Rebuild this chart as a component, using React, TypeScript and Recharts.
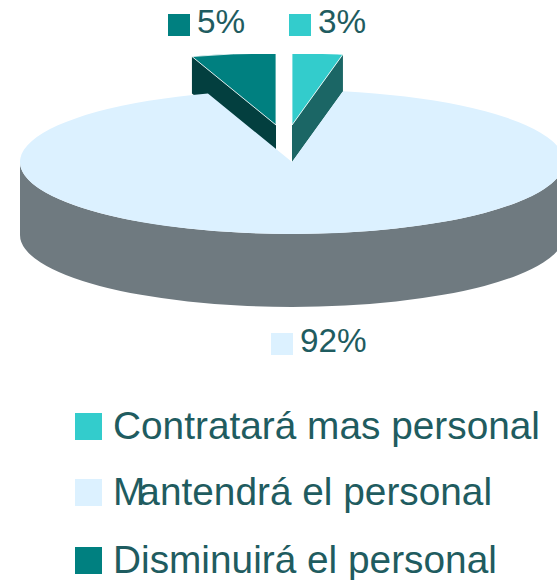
import React from 'react';
import { PieChart, Pie, Legend } from 'recharts';

const CATEGORIES = ['Contratará mas personal', 'Mantendrá el personal', 'Disminuirá el personal'];
const VALUES = [3, 92, 5];
const COLORS = ['#33cccc', '#dcf1ff', '#008080'];
const SIDE_COLORS = ['#1b6665', '#6f7a80', '#033f3f'];

// how far each slice is pulled up, and how tall it is drawn
const LIFTS = [37, 0, 37];
const DEPTHS = [37, 73, 37];
const SHIFTS = [0, 0, -16];
const LABEL_BOXES = [
  { x: 289, y: 14 },
  { x: 271, y: 333 },
  { x: 168, y: 14 },
];

const TEXT_COLOR = '#1f5c60';
const FONT = '"Liberation Sans", Arial, sans-serif';
const TILT = 72 / 272;

// the left slice has to sit under the big one, so it is drawn first
const DRAW_ORDER = [2, 0, 1];
const tableData = DRAW_ORDER.map((i) => ({
  name: CATEGORIES[i],
  value: VALUES[i],
  fill: COLORS[i],
  slot: i,
}));

const SliceShape = (props: any) => {
  const { cx, cy, outerRadius, startAngle, endAngle, payload } = props;
  const slot = payload?.slot ?? props.slot;
  const rx = outerRadius;
  const ry = outerRadius * TILT;
  const ax = cx + SHIFTS[slot];
  const ay = cy - LIFTS[slot];
  const depth = DEPTHS[slot];
  const at = (deg: number, down = 0) => {
    const rad = (deg * Math.PI) / 180;
    return [ax + rx * Math.cos(rad), ay - ry * Math.sin(rad) + down];
  };
  const hi = Math.max(startAngle, endAngle);
  const lo = Math.min(startAngle, endAngle);
  const s = at(hi);
  const e = at(lo);
  const large = hi - lo > 180 ? 1 : 0;
  const top = `M${ax},${ay}L${s[0]},${s[1]}A${rx},${ry} 0 ${large} 1 ${e[0]},${e[1]}Z`;
  const face = (p: number[]) =>
    `M${ax},${ay}L${p[0]},${p[1]}L${p[0]},${p[1] + depth}L${ax},${ay + depth}Z`;

  // front wall, only where the rim faces the viewer
  const wallHi = Math.min(hi, 0);
  const wallLo = Math.max(lo, -180);
  let wall = null;
  if (wallHi > wallLo) {
    const a = at(wallHi);
    const b = at(wallLo);
    wall = (
      <path
        d={`M${a[0]},${a[1]}A${rx},${ry} 0 0 1 ${b[0]},${b[1]}L${b[0]},${b[1] + depth}A${rx},${ry} 0 0 0 ${a[0]},${a[1] + depth}Z`}
        fill={SIDE_COLORS[slot]}
      />
    );
  }
  const small = VALUES[slot] < 50;
  return (
    <g clipPath={small ? 'url(#plotTop)' : undefined}>
      {small && <path d={face(s)} fill={SIDE_COLORS[slot]} />}
      {small && <path d={face(e)} fill={SIDE_COLORS[slot]} />}
      {wall}
      <path d={top} fill={COLORS[slot]} stroke={small ? '#ffffff' : 'none'} strokeWidth={small ? 0.8 : 0} />
    </g>
  );
};

const renderLabel = (props: any) => {
  const slot = tableData[props.index].slot;
  const box = LABEL_BOXES[slot];
  return (
    <g key={slot}>
      <rect x={box.x} y={box.y} width={22} height={22} fill={COLORS[slot]} />
      <text x={box.x + 29} y={box.y + 18.5} fontSize={33.3} fontFamily={FONT} fill={TEXT_COLOR}>
        {`${VALUES[slot]}%`}
      </text>
    </g>
  );
};

const LEGEND_TOPS = [413, 479, 547];
// the reference squeezes the capital M against the next letter
const FIRST_LETTER_KERN = [0, -7, 0];

const LegendRows = ({ payload }: any) => {
  const rows = [...(payload || [])].sort(
    (a: any, b: any) => CATEGORIES.indexOf(a.value) - CATEGORIES.indexOf(b.value)
  );
  return (
    <div>
      {rows.map((row: any, i: number) => (
        <div key={row.value} style={{ position: 'absolute', left: 75, top: LEGEND_TOPS[i] }}>
          <div style={{ position: 'absolute', left: 0, top: 0, width: 27, height: 27, background: row.color }} />
          <div
            style={{
              position: 'absolute',
              left: 38,
              top: -9,
              fontFamily: FONT,
              fontSize: 38.8,
              lineHeight: '44px',
              color: TEXT_COLOR,
              whiteSpace: 'nowrap',
            }}
          >
            <span style={{ letterSpacing: FIRST_LETTER_KERN[i] }}>{row.value.charAt(0)}</span>
            {row.value.slice(1)}
          </div>
        </div>
      ))}
    </div>
  );
};

export default function App() {
  return (
    <div style={{ position: 'fixed', left: 0, top: 0, width: 557, height: 580, overflow: 'hidden', background: '#fff' }}>
      <PieChart width={557} height={580} margin={{ top: 0, right: 0, bottom: 0, left: 0 }}>
        <defs>
          <clipPath id="plotTop">
            <rect x={0} y={54} width={557} height={526} />
          </clipPath>
        </defs>
        <Pie
          data={tableData}
          dataKey="value"
          nameKey="name"
          cx={292}
          cy={162}
          outerRadius={272}
          startAngle={108}
          endAngle={-252}
          stroke="none"
          shape={SliceShape}
          label={renderLabel}
          labelLine={false}
          isAnimationActive={false}
        />
        <Legend content={LegendRows} wrapperStyle={{ position: 'absolute', left: 0, top: 0, width: 557, height: 0 }} />
      </PieChart>
    </div>
  );
}
